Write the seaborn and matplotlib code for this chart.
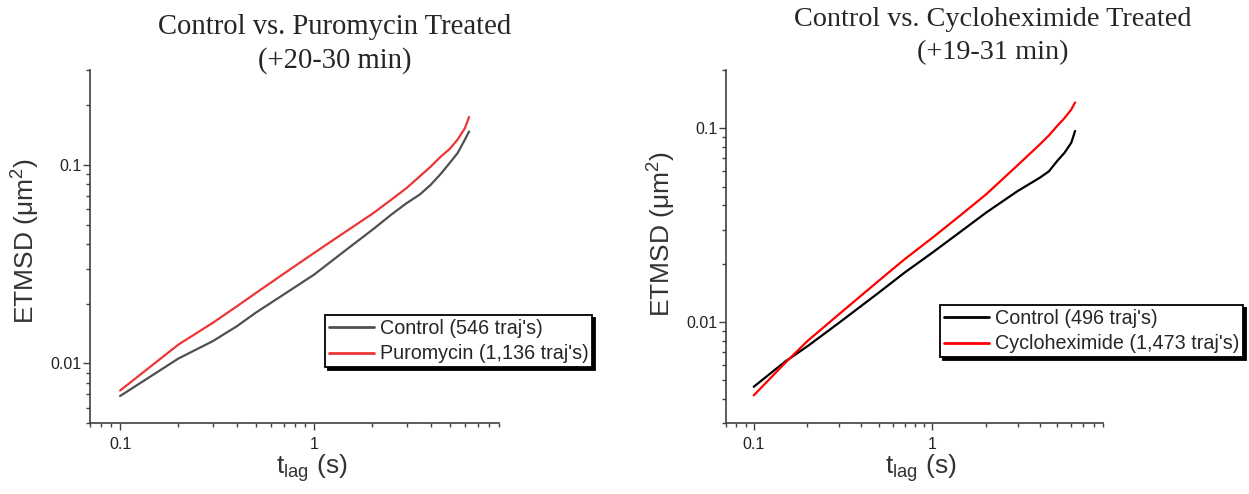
import numpy as np
import pandas as pd
import matplotlib
matplotlib.use("Agg")
import matplotlib.pyplot as plt
from matplotlib.ticker import LogLocator, NullFormatter, FuncFormatter
import seaborn as sns

# Lag times (s) and ensemble time-averaged MSD (um^2)
t_puro = [0.1, 0.2, 0.3, 0.4, 0.5, 0.75, 1.0, 1.5, 2.0, 2.5, 3.0, 3.5, 4.0, 4.5, 5.0, 5.5, 6.0, 6.3]
ctrl_puro = [0.00686, 0.0106, 0.01294, 0.0154, 0.0180, 0.0233, 0.0280, 0.0380, 0.0471, 0.0561,
             0.0641, 0.0707, 0.0794, 0.0900, 0.1020, 0.1146, 0.1340, 0.1470]
puro = [0.00731, 0.01246, 0.0160, 0.0194, 0.0226, 0.0297, 0.0360, 0.0470, 0.0567, 0.0667,
        0.0764, 0.0873, 0.0980, 0.1100, 0.1200, 0.1340, 0.1530, 0.1740]

t_chx = [0.1, 0.15, 0.2, 0.3, 0.5, 0.7, 1.0, 1.5, 2.0, 3.0, 4.0, 4.5, 5.0, 5.5, 6.0, 6.3]
ctrl_chx = [0.00463, 0.00625, 0.0075, 0.0099, 0.01415, 0.0180, 0.0228, 0.0301, 0.0367, 0.0474,
            0.0556, 0.0600, 0.0678, 0.0748, 0.0843, 0.0969]
chx = [0.00418, 0.00615, 0.00798, 0.01096, 0.0163, 0.0211, 0.0272, 0.0367, 0.0456, 0.0644,
       0.0826, 0.0920, 0.1028, 0.1130, 0.1250, 0.1360]

labels_puro = ["Control (546 traj's)", "Puromycin (1,136 traj's)"]
labels_chx = ["Control (496 traj's)", "Cycloheximide (1,473 traj's)"]
titles = ["Control vs. Puromycin Treated\n(+20-30 min)",
          "Control vs. Cycloheximide Treated\n(+19-31 min)"]

sns.set_theme(style="ticks")
plt.rcParams["font.family"] = ["Liberation Sans", "DejaVu Sans"]
plt.rcParams["mathtext.default"] = "regular"

fig = plt.figure(figsize=(12.49, 4.94), dpi=100)
ax1 = fig.add_axes([0.0721, 0.1431, 0.3275, 0.7152])
ax2 = fig.add_axes([0.5813, 0.1431, 0.3016, 0.7152])


def long_frame(t, a, b, la, lb):
    return pd.DataFrame({
        "t": list(t) + list(t),
        "msd": list(a) + list(b),
        "group": [la] * len(t) + [lb] * len(t),
    })


panels = [
    (ax1, long_frame(t_puro, ctrl_puro, puro, *labels_puro), labels_puro,
     ["#505050", "#ee3535"], (0.005, 0.3), (0.5746, 0.3065)),
    (ax2, long_frame(t_chx, ctrl_chx, chx, *labels_chx), labels_chx,
     ["#000000", "#ff0000"], (0.003, 0.2), (0.568, 0.335)),
]

spine_col = "#404040"
for ax, df, labs, cols, ylim, leg_anchor in panels:
    sns.lineplot(data=df, x="t", y="msd", hue="group", hue_order=labs,
                 palette=cols, linewidth=1.6, ax=ax, legend=False,
                 estimator=None, sort=False)
    ax.set_xscale("log")
    ax.set_yscale("log")
    ax.set_xlim(0.07, 9)
    ax.set_ylim(*ylim)
    for axis in (ax.xaxis, ax.yaxis):
        axis.set_major_locator(LogLocator(base=10))
        axis.set_minor_locator(LogLocator(base=10, subs=np.arange(2, 10)))
        axis.set_minor_formatter(NullFormatter())
        axis.set_major_formatter(FuncFormatter(lambda v, p: f"{v:g}"))
    ax.tick_params(which="major", direction="out", length=5, width=1,
                   color=spine_col, labelsize=11.5, labelcolor="#222222")
    ax.tick_params(axis="x", which="major", pad=5)
    ax.tick_params(axis="y", which="major", pad=1)
    ax.tick_params(which="minor", direction="out", length=3, width=1, color=spine_col)
    for s in ("top", "right"):
        ax.spines[s].set_visible(False)
    for s in ("left", "bottom"):
        ax.spines[s].set_color(spine_col)
        ax.spines[s].set_linewidth(1.2)
    ax.set_facecolor("white")

    ax.set_xlabel(r"t$_{lag}$ (s)", fontsize=19, color="#333333")
    ax.set_ylabel(r"ETMSD ($\mu$m$^{2}$)", fontsize=19, color="#333333")

    handles = [plt.Line2D([], [], color=c, linewidth=2) for c in cols]
    leg = ax.legend(handles, labs, loc="upper left", bbox_to_anchor=leg_anchor,
                    borderaxespad=0, frameon=True, fancybox=False,
                    shadow={"color": "black", "alpha": 1.0}, framealpha=1,
                    edgecolor="black", fontsize=14.2, handlelength=2.3,
                    handletextpad=0.27, labelspacing=0.33, borderpad=0.2)
    leg.get_frame().set_linewidth(1.3)

ax1.xaxis.set_label_coords(0.543, -0.082)
ax2.xaxis.set_label_coords(0.516, -0.082)
ax1.yaxis.set_label_coords(-0.117, 0.515)
ax2.yaxis.set_label_coords(-0.127, 0.536)

serif = ["Liberation Serif", "DejaVu Serif"]
fig.text(335 / 1249, 0.985 - 7 / 494, titles[0], ha="center", va="top", fontsize=20.6,
         family=serif, linespacing=1.3)
fig.text(993 / 1249, 0.985, titles[1], ha="center", va="top", fontsize=20.3,
         family=serif, linespacing=1.42)

fig.savefig("out.png", dpi=100, facecolor="white")
